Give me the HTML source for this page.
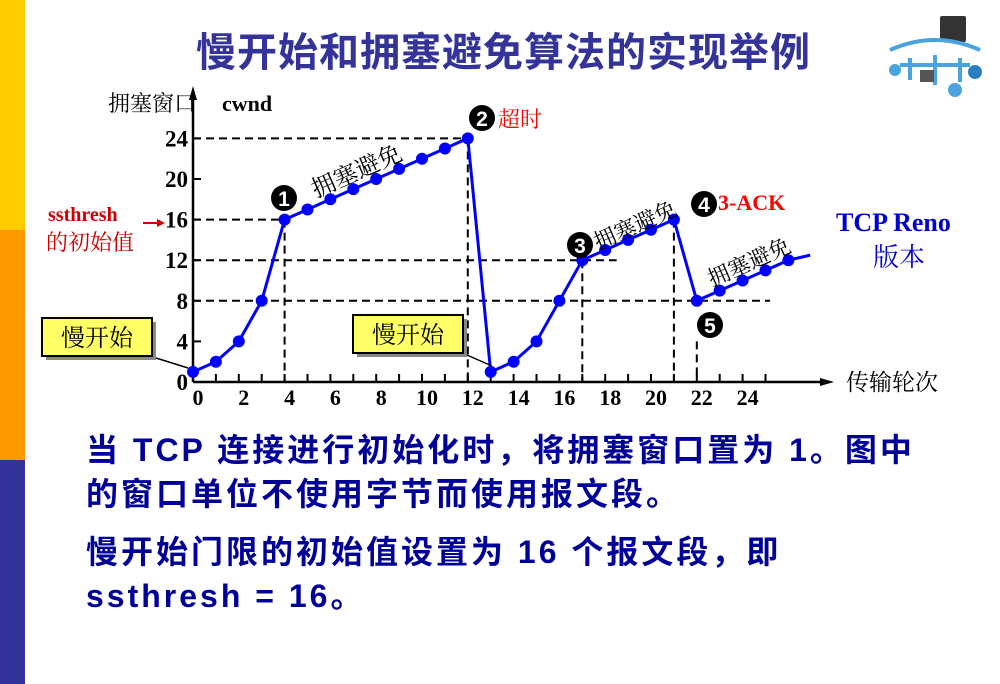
<!DOCTYPE html>
<html><head><meta charset="utf-8"><style>
body{margin:0;width:1000px;height:684px;background:#fff;position:relative;overflow:hidden;font-family:"Liberation Serif","Noto Serif CJK SC",serif}
.t{position:absolute;white-space:nowrap}
.body{font:bold 32px/44px 'Liberation Sans','Noto Sans CJK SC',sans-serif;color:#000099;letter-spacing:3px}
</style></head><body>
<div style="position:absolute;left:0;top:0;width:25px;height:230px;background:#ffcc00"></div>
<div style="position:absolute;left:0;top:230px;width:25px;height:230px;background:#ff9900"></div>
<div style="position:absolute;left:0;top:460px;width:25px;height:224px;background:#333399"></div>
<div class="t" style="left:196px;top:20px;font:bold 40px 'Liberation Sans','Noto Sans CJK SC',sans-serif;letter-spacing:1px;color:#333399">慢开始和拥塞避免算法的实现举例</div>
<svg style="position:absolute;left:880px;top:10px" width="110" height="90">
<rect x="60" y="6" width="26" height="26" fill="#333" rx="2"/>
<path d="M10 40 Q55 20 100 40" stroke="#4aa3df" stroke-width="4" fill="none"/>
<path d="M20 55 L90 55 M30 48 L30 70 M55 45 L55 75 M80 48 L80 72" stroke="#4aa3df" stroke-width="4" fill="none"/>
<circle cx="15" cy="60" r="6" fill="#4aa3df"/><circle cx="95" cy="62" r="7" fill="#2a7fc0"/><circle cx="75" cy="80" r="7" fill="#4aa3df"/>
<rect x="40" y="60" width="14" height="12" fill="#555"/>
</svg>
<svg id="chart" width="1000" height="684" style="position:absolute;left:0;top:0"></svg>
<div class="t body" style="left:86px;top:428px">当 TCP 连接进行初始化时，将拥塞窗口置为 1。图中<br>的窗口单位不使用字节而使用报文段。</div>
<div class="t body" style="left:86px;top:530px">慢开始门限的初始值设置为 16 个报文段，即<br>ssthresh = 16。</div>
<script>
const xs=[0,1,2,3,4,5,6,7,8,9,10,11,12,13,14,15,16,17,18,19,20,21,22,23,24,25,26];
const cwnd=[1,2,4,8,16,17,18,19,20,21,22,23,24,1,2,4,8,12,13,14,15,16,8,9,10,11,12];
const xTicks=[0,2,4,6,8,10,12,14,16,18,20,22,24];
const yTicks=[0,4,8,12,16,20,24];
const X=v=>193+v*22.9, Y=v=>382-v*10.15;
const s=document.getElementById('chart'),NS='http://www.w3.org/2000/svg';
function el(t,a,txt){const e=document.createElementNS(NS,t);for(const k in a)e.setAttribute(k,a[k]);if(txt!=null)e.textContent=txt;s.appendChild(e);return e;}
function dash(x1,y1,x2,y2,n){const e=el('line',{x1,y1,x2,y2,stroke:'#000','stroke-width':2,'stroke-dasharray':'8 5'});

}
dash(X(0),Y(24),X(12),Y(24),'guide-24');dash(X(0),Y(16),X(4),Y(16),'guide-16');
dash(X(0),Y(12),X(18.5),Y(12),'guide-12');dash(X(0),Y(8),X(25.2),Y(8),'guide-8');
dash(X(4),Y(16),X(4),382,'guide-x4');dash(X(12),Y(24),X(12),382,'guide-x12');
dash(X(17),Y(12),X(17),382,'guide-x17');dash(X(21),Y(16),X(21),382,'guide-x21');dash(X(22),Y(4),X(22),382,'guide-x22');
let a=el('path',{d:`M${X(0)} 382 L${X(0)} 92 M${X(0)} 382 L826 382`,stroke:'#000','stroke-width':2.5,fill:'none'});

el('path',{d:`M${X(0)-4} 100 L${X(0)} 86 L${X(0)+4} 100 Z M820 378 L834 382 L820 386Z`,fill:'#000'});
for(let i=1;i<=25;i++){const e=el('line',{x1:X(i),y1:382,x2:X(i),y2:374,stroke:'#000','stroke-width':2});

}
yTicks.forEach(v=>{if(v>0)el('line',{x1:X(0),y1:Y(v),x2:X(0)+8,y2:Y(v),stroke:'#000','stroke-width':2});
const e=el('text',{x:X(0)-5,y:Y(v)+8,'text-anchor':'end','font-size':23,'font-weight':'bold','font-family':'Liberation Serif'},v);

});
xTicks.forEach(v=>{const e=el('text',{x:X(v)+5,y:405,'text-anchor':'middle','font-size':22,'font-weight':'bold','font-family':'Liberation Serif'},v);

});
const pts=xs.map((x,i)=>X(x)+','+Y(cwnd[i])).join(' ')+` ${X(26.95)},${Y(12.5)}`;
const ln=el('polyline',{points:pts,fill:'none',stroke:'#0000ff','stroke-width':3});


xs.forEach((x,i)=>{const c=el('circle',{cx:X(x),cy:Y(cwnd[i]),r:6,fill:'#0000ff'});

});
function txt(x,y,t,sz,col,n,rot,fam){const e=el('text',{x,y,'font-size':sz,fill:col,'font-family':fam||'Liberation Serif, Noto Serif CJK SC, serif',transform:rot?`rotate(${rot} ${x} ${y})`:''},t);

return e;}
txt(108,111,'拥塞窗口','22','#000','y-axis-title');
const cw=txt(222,111,'cwnd','22','#000','y-axis-title-en');cw.setAttribute('font-weight','bold');
txt(846,390,'传输轮次','23','#000','x-axis-title');
txt(316,198,'拥塞避免','24','#000','ca-label-1',-24);
txt(598,250,'拥塞避免','22','#000','ca-label-2',-24);
txt(712,287,'拥塞避免','22','#000','ca-label-3',-24);
const ss=txt(48,221,'ssthresh','20','#cc0000','ssthresh-label');ss.setAttribute('font-weight','bold');
txt(46,250,'的初始值','22','#cc0000','ssthresh-label-2');
el('path',{d:'M143 223 L158 223',stroke:'#cc0000','stroke-width':2});el('path',{d:'M157 219 L165 223 L157 227Z',fill:'#cc0000'});
txt(498,127,'超时','22','#ff0000','timeout-label');
const ak=txt(718,210,'3-ACK','22','#ff0000','3ack-label');ak.setAttribute('font-weight','bold');
const r=txt(836,231,'TCP Reno','26','#0000cc','reno-label');r.setAttribute('font-weight','bold');
txt(873,266,'版本','26','#0000cc','reno-label-2');
[[284,198,'1'],[482,118,'2'],[580,245,'3'],[704,204,'4'],[710,325,'5']].forEach(m=>{const c=el('circle',{cx:m[0],cy:m[1],r:13,fill:'#000'});


el('text',{x:m[0],y:m[1]+8,'text-anchor':'middle','font-size':21,'font-weight':'bold',fill:'#fff','font-family':'Liberation Sans'},m[2]);});
function box(x,y,n){el('rect',{x:x+4,y:y+4,width:110,height:38,fill:'#888'});
const b=el('rect',{x,y,width:110,height:38,fill:'#ffff66',stroke:'#000','stroke-width':2});


el('text',{x:x+55,y:y+28,'text-anchor':'middle','font-size':24,'font-family':'Liberation Serif, Noto Serif CJK SC, serif'},'慢开始');}
box(42,318,'slow-start-box-1');box(353,315,'slow-start-box-2');
el('line',{x1:156,y1:358,x2:188,y2:368,stroke:'#000','stroke-width':1.5});
el('line',{x1:467,y1:355,x2:492,y2:366,stroke:'#000','stroke-width':1.5});
</script>
</body></html>
